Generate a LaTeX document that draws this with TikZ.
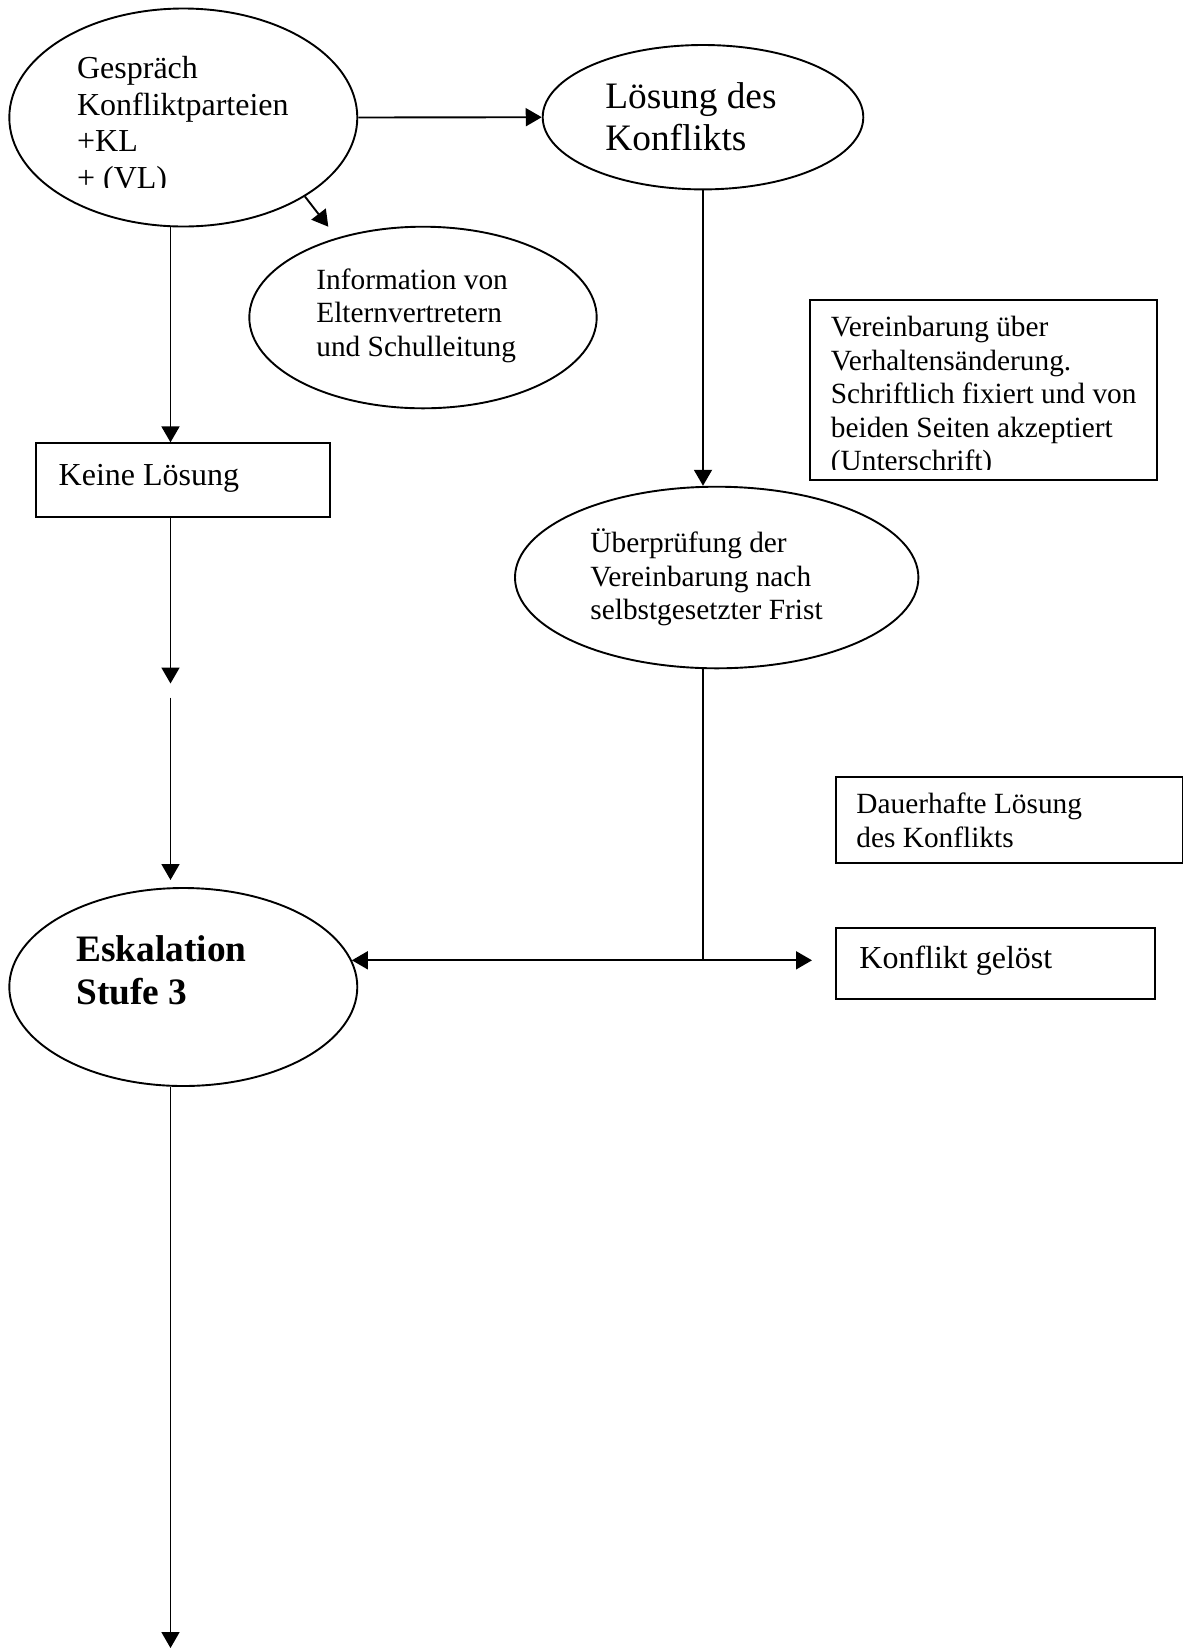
\documentclass[tikz,border=0pt]{standalone}
\usepackage{fontspec}
\setmainfont{Liberation Serif}
\usetikzlibrary{shapes.geometric,arrows.meta}
\newcommand\firstln{\rule{0pt}{1em}}
\begin{document}
\begin{tikzpicture}[x=0.5pt,y=-0.5pt,
  shp/.style={draw,line width=0.95pt,inner sep=0pt},
  ell/.style={shp,ellipse},
  bx/.style={shp,rectangle},
  conn/.style={line width=0.95pt,-{Triangle[width=9pt,length=8pt]}},
  dconn/.style={line width=0.95pt,{Triangle[width=9pt,length=8pt]}-{Triangle[width=9pt,length=8pt]}},
  plainln/.style={line width=0.95pt},
  txt/.style={anchor=north west,inner sep=0pt,align=left},
  fbig/.style={txt,font=\fontsize{16}{18.25}\selectfont},
  fsmall/.style={txt,font=\fontsize{14.67}{16.75}\selectfont},
  fhuge/.style={txt,font=\fontsize{18.67}{21}\selectfont},
  fbold/.style={txt,font=\fontsize{18.67}{21.5}\selectfont\bfseries}
]
\useasboundingbox[fill=white] (0,0) rectangle (1183,1651);

% shapes
\node[ell,minimum width=174pt,minimum height=109pt] (A) at (183.3,117.5) {};
\node[ell,minimum width=160.3pt,minimum height=72.2pt] (B) at (703,117.2) {};
\node[ell,minimum width=173.7pt,minimum height=90.8pt] (C) at (423,317.5) {};
\node[ell,minimum width=201.7pt,minimum height=90.8pt] (D) at (716.7,577.5) {};
\node[ell,minimum width=174pt,minimum height=99pt] (E) at (183.3,987) {};
\node[bx,minimum width=147pt,minimum height=36.7pt] (K) at (183,480) {};
\node[bx,minimum width=173.35pt,minimum height=90pt] (V) at (983.35,390) {};
\node[bx,minimum width=173.25pt,minimum height=43pt] (Dau) at (1009.25,819.7) {};
\node[bx,minimum width=159.5pt,minimum height=35.5pt] (KG) at (995.5,963.8) {};

% texts
\begin{scope}
\clip (0,0) rectangle (400,187);
\node[fbig] (tA) at (76.7,46.5) {\firstln Gespräch\\Konfliktparteien\\+KL\\+ (VL)};
\end{scope}
\node[fhuge] (tB) at (605,71.2) {\firstln Lösung des\\Konflikts};
\node[fsmall] (tC) at (316,259.7) {\firstln Information von\\Elternvertretern\\und Schulleitung};
\begin{scope}
\clip (800,290) rectangle (1170,469.5);
\node[fsmall] (tV) at (830.5,307.2) {\firstln Vereinbarung über\\Verhaltensänderung.\\Schriftlich fixiert und von\\beiden Seiten akzeptiert\\(Unterschrift)};
\end{scope}
\node[fbig] (tK) at (58.3,453) {\firstln Keine Lösung};
\node[fsmall] (tD) at (590,523) {\firstln Überprüfung der\\Vereinbarung nach\\selbstgesetzter Frist};
\node[fsmall] (tDau) at (856,784) {\firstln Dauerhafte Lösung\\des Konflikts};
\node[fbig] (tKG) at (859,936.3) {\firstln Konflikt gelöst};
\node[fbold] (tE) at (76,923.7) {\firstln Eskalation\\Stufe 3};

% helper coordinates
\coordinate (colL) at (170.5,0);
\coordinate (ct) at (328.3,226.7);
\coordinate (g1) at (170.5,683.5);
\coordinate (g2) at (170.5,697.5);
\coordinate (g3) at (170.5,880);
\coordinate (g4) at (170.5,1648);
\coordinate (tipR) at (812,0);

% connectors
\draw[conn] (A.east) -- (B.west);
\draw[conn] (A.-33) -- (ct);
\draw[conn] (A.south -| colL) -- (K.north -| colL);
\draw[conn] (K.south -| colL) -- (g1);
\draw[conn] (g2) -- (g3);
\draw[conn] (E.south -| colL) -- (g4);
\draw[conn] (B.south) -- (B.south |- D.north);
\draw[plainln] (D.south -| B.south) -- (B.south |- E.9);
\draw[dconn] (E.9) -- (E.9 -| tipR);
\end{tikzpicture}
\end{document}
